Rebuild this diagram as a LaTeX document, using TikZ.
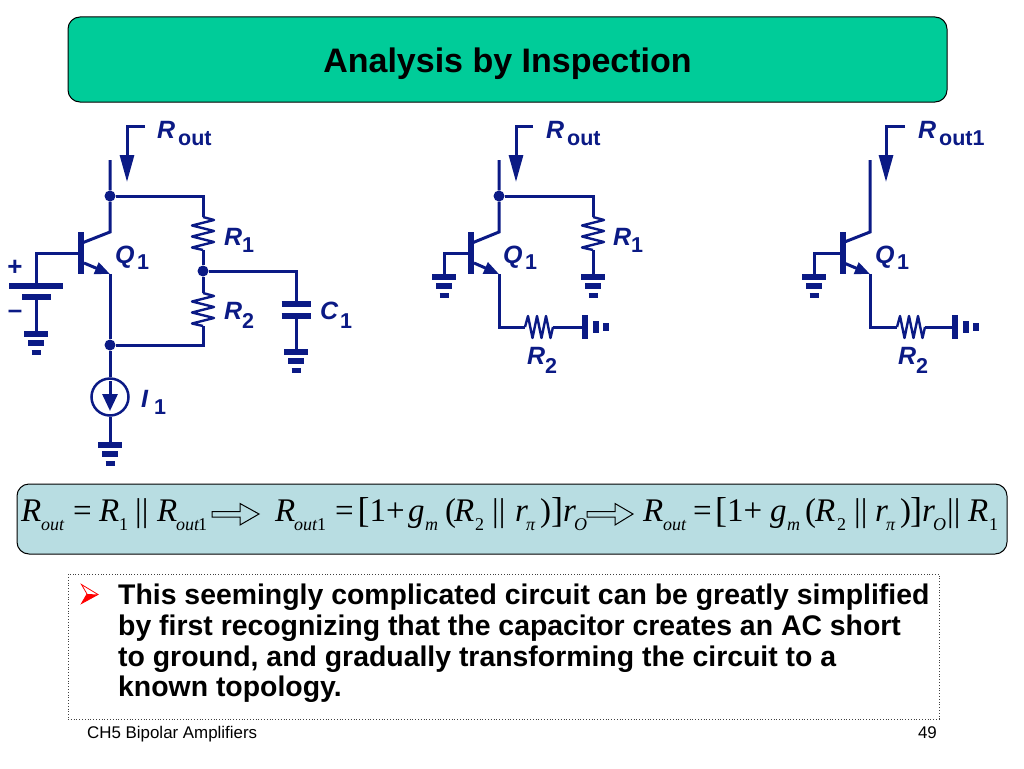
\documentclass[tikz,border=0pt]{standalone}
\usepackage{fontspec}
\usetikzlibrary{arrows.meta}
\setmainfont{Liberation Sans}
\newfontfamily\serf{Liberation Serif}
\newfontfamily\cfont{Liberation Sans Bold Italic}
\newfontfamily\cfontu{Liberation Sans Bold}
\definecolor{navy}{HTML}{0B1A85}
\definecolor{titlefill}{HTML}{00CC99}
\definecolor{eqfill}{HTML}{B8DDE2}
\tikzset{
  wire/.style={draw=navy,line width=3pt,line join=miter},
  plate/.style={draw=navy,line width=6pt},
  dotn/.style={circle,fill=navy,inner sep=0pt,minimum size=11pt},
  clab/.style={anchor=base west,inner sep=0pt,text=navy,font=\cfont\fontsize{25}{25}\selectfont},
  csub/.style={anchor=base west,inner sep=0pt,text=navy,font=\cfontu\fontsize{21.5}{21.5}\selectfont},
  eqbig/.style={anchor=base west,inner sep=0pt,font=\serf\fontsize{33}{33}\selectfont},
  eqit/.style={anchor=base west,inner sep=0pt,font=\serf\itshape\fontsize{33}{33}\selectfont},
  eqsub/.style={anchor=base west,inner sep=0pt,font=\serf\itshape\fontsize{18}{18}\selectfont},
  eqsubr/.style={anchor=base west,inner sep=0pt,font=\serf\fontsize{18}{18}\selectfont},
  eqbr/.style={anchor=base west,inner sep=0pt,font=\serf\fontsize{36}{36}\selectfont},
  bigarrow/.style={draw=black,line width=1pt,fill=eqfill},
  pics/gnd/.style={code={
    \draw[navy,line width=5.5pt] (-12,0)--(12,0);
    \draw[navy,line width=5.5pt] (-8,9)--(8,9);
    \draw[navy,line width=5.5pt] (-4.5,18.5)--(4.5,18.5);}},
  pics/gndh/.style={code={
    \draw[navy,line width=5.5pt] (0,-12)--(0,12);
    \draw[navy,line width=5.5pt] (11,-6)--(11,6);
    \draw[navy,line width=5.5pt] (21,-4)--(21,4);}},
  pics/resv/.style={code={
    \draw[wire,line width=2.4pt,line join=round] (0,0)--(11,3)--(-11,8.5)--(11,14)--(-11,19.5)--(11,25)--(-11,30.5)--(0,33);}},
  pics/resh/.style={code={
    \draw[wire,line width=2.4pt,line join=round] (0,0)--(3,-11)--(7.5,11)--(12,-11)--(16.5,11)--(21,-11)--(25.5,11)--(28,0);}},
}
\begin{document}
\begin{tikzpicture}[x=1pt,y=-1pt]
\useasboundingbox (0,0) rectangle (1024,768);
% panels
\node[draw=black,line width=1pt,fill=titlefill,rounded corners=12pt,minimum width=879pt,minimum height=85pt,inner sep=0pt] (titlebox) at (507.5,59.5) {};
\node[inner sep=0pt,font=\bfseries\fontsize{34}{34}\selectfont] (title) at (507.5,63.5) {Analysis by Inspection};
\node[draw=black,line width=1pt,fill=eqfill,rounded corners=12pt,minimum width=990pt,minimum height=70pt,inner sep=0pt] (eqbox) at (512,519) {};
\node[draw=black!75,line width=.8pt,dotted,minimum width=871pt,minimum height=145pt,inner sep=0pt] (textbox) at (503.5,646.5) {};

% ---- circuit 1
\coordinate (at) at (145,126); \coordinate (am) at (127,126); \coordinate (ae) at (127,182);
\draw[wire,-{Triangle[length=27pt,width=14pt]}] (at)--(am)--(ae);
\coordinate (ctop) at (110,160);
\node[dotn] (n1) at (110,196) {};
\node[dotn] (n2) at (203,271) {};
\node[dotn] (n3) at (110,345) {};
\coordinate (c1) at (110,232);
\coordinate (b1) at (82,243);
\coordinate (bw) at (82,253);
\coordinate (bl) at (36,253);
\coordinate (bp) at (36,286);
\coordinate (e0) at (84,263);
\coordinate (e1) at (110,274);
\draw[wire] (ctop)--(n1)--(c1)--(b1);
\draw[plate] (81,232)--(81,274);
\draw[wire] (bw)--(bl)--(bp);
\draw[wire,-{Triangle[length=15pt,width=12pt]}] (e0)--(e1);
\draw[wire] (e1)--(n3);
% R1 R2
\coordinate (r1a) at (203,217); \coordinate (r1b) at (203,250);
\coordinate (r2a) at (203,293); \coordinate (r2b) at (203,326);
\coordinate (tr) at (203,196); \coordinate (br) at (203,345);
\draw[wire] (n1)--(tr)--(r1a);
\pic at (r1a) {resv};
\draw[wire] (r1b)--(n2)--(r2a);
\pic at (r2a) {resv};
\draw[wire] (r2b)--(br)--(n3);
% C1
\coordinate (ct) at (296,271); \coordinate (cp1) at (296,304); \coordinate (cp2) at (296,316); \coordinate (cg) at (296,352);
\draw[wire] (n2)--(ct)--(cp1);
\draw[plate] (281.5,304)--(310.5,304);
\draw[plate] (281.5,316)--(310.5,316);
\draw[wire] (cp2)--(cg);
\pic at (cg) {gnd};
% battery
\draw[plate] (9,286)--(63,286);
\coordinate (bp2) at (36,297); \coordinate (bg) at (36,334);
\draw[plate] (22,297)--(51,297);
\draw[wire] (bp2)--(bg);
\pic at (bg) {gnd};
\node[inner sep=0pt,text=navy,font=\cfontu\fontsize{26}{26}\selectfont] (plus) at (15,268) {+};
\node[inner sep=0pt,text=navy,font=\cfontu\fontsize{26}{26}\selectfont] (minus) at (15,314) {–};
% current source
\node[circle,draw=navy,line width=2.5pt,minimum size=37pt,inner sep=0pt] (i1) at (110,397) {};
\coordinate (ig) at (110,445); \coordinate (ia) at (110,381); \coordinate (ib) at (110,411);
\draw[wire] (n3)--(i1);
\draw[wire,-{Triangle[length=17pt,width=15pt]}] (ia)--(ib);
\draw[wire] (i1)--(ig);
\pic at (ig) {gnd};
% labels 1
\node[clab] (la) at (157,138) {R}; \node[csub] (las) at (178,145) {out};
\node[clab] (lq) at (115,263) {Q}; \node[csub] (lqs) at (137,269) {1};
\node[clab] (lr1) at (224,245) {R}; \node[csub] (lr1s) at (242,252) {1};
\node[clab] (lr2) at (224,319) {R}; \node[csub] (lr2s) at (242,328) {2};
\node[clab] (lc1) at (320,319) {C}; \node[csub] (lc1s) at (340,328) {1};
\node[clab] (li) at (141,407) {I}; \node[csub] (lis) at (154,414) {1};

% ---- circuit 2
\coordinate (Bat) at (533,126); \coordinate (Bam) at (516,126); \coordinate (Bae) at (516,182);
\draw[wire,-{Triangle[length=27pt,width=14pt]}] (Bat)--(Bam)--(Bae);
\coordinate (Bctop) at (499,160);
\node[dotn] (Bn1) at (499,196) {};
\coordinate (Bc1) at (499,232); \coordinate (Bb1) at (472,243); \coordinate (Bbw) at (472,253);
\coordinate (Bbl) at (444,253); \coordinate (Bbg) at (444,277);
\coordinate (Be0) at (474,263); \coordinate (Be1) at (499,274);
\coordinate (Bec) at (499,327); \coordinate (Br2a) at (525,327); \coordinate (Br2b) at (553,327); \coordinate (Bg2) at (585,327);
\draw[wire] (Bctop)--(Bn1)--(Bc1)--(Bb1);
\draw[plate] (471,232)--(471,274);
\draw[wire] (Bbw)--(Bbl)--(Bbg);
\pic at (Bbg) {gnd};
\draw[wire,-{Triangle[length=15pt,width=12pt]}] (Be0)--(Be1);
\draw[wire] (Be1)--(Bec)--(Br2a);
\pic at (Br2a) {resh};
\draw[wire] (Br2b)--(Bg2);
\pic at (Bg2) {gndh};
\coordinate (Btr) at (593,196); \coordinate (Br1a) at (593,217); \coordinate (Br1b) at (593,250); \coordinate (Bg1) at (593,277);
\draw[wire] (Bn1)--(Btr)--(Br1a);
\pic at (Br1a) {resv};
\draw[wire] (Br1b)--(Bg1);
\pic at (Bg1) {gnd};
\node[clab] (Bla) at (546,138) {R}; \node[csub] (Blas) at (567,145) {out};
\node[clab] (Blq) at (503,263) {Q}; \node[csub] (Blqs) at (525,269) {1};
\node[clab] (Blr1) at (613,245) {R}; \node[csub] (Blr1s) at (631,252) {1};
\node[clab] (Blr2) at (527,364) {R}; \node[csub] (Blr2s) at (545,373) {2};

% ---- circuit 3
\coordinate (Cat) at (905,126); \coordinate (Cam) at (886,126); \coordinate (Cae) at (886,182);
\draw[wire,-{Triangle[length=27pt,width=14pt]}] (Cat)--(Cam)--(Cae);
\coordinate (Cctop) at (870,160);
\coordinate (Cc1) at (870,232); \coordinate (Cb1) at (842,243); \coordinate (Cbw) at (842,253);
\coordinate (Cbl) at (814,253); \coordinate (Cbg) at (814,277);
\coordinate (Ce0) at (844,263); \coordinate (Ce1) at (870,274);
\coordinate (Cec) at (870,327); \coordinate (Cr2a) at (897,327); \coordinate (Cr2b) at (925,327); \coordinate (Cg2) at (955,327);
\draw[wire] (Cctop)--(Cc1)--(Cb1);
\draw[plate] (842.5,232)--(842.5,274);
\draw[wire] (Cbw)--(Cbl)--(Cbg);
\pic at (Cbg) {gnd};
\draw[wire,-{Triangle[length=15pt,width=12pt]}] (Ce0)--(Ce1);
\draw[wire] (Ce1)--(Cec)--(Cr2a);
\pic at (Cr2a) {resh};
\draw[wire] (Cr2b)--(Cg2);
\pic at (Cg2) {gndh};
\node[clab] (Cla) at (918,138) {R}; \node[csub] (Clas) at (939,145) {out1};
\node[clab] (Clq) at (875,263) {Q}; \node[csub] (Clqs) at (897,269) {1};
\node[clab] (Clr2) at (898,364) {R}; \node[csub] (Clr2s) at (916,373) {2};

% ---- equation
\node[eqit] (q1) at (21,521) {R}; \node[eqsub] (q2) at (41,530) {out};
\node[eqbig] (q3) at (73,521) {=};
\node[eqit] (q4) at (99,521) {R}; \node[eqsubr] (q5) at (119,530) {1};
\node[eqbig] (q6) at (135,521) {||};
\node[eqit] (q7) at (157,521) {R}; \node[eqsub] (q8) at (176,530) {out};\node[eqsubr] (q9) at (198,530) {1};
\draw[bigarrow] (212,511.5)--(240,511.5)--(240,503.5)--(259,514)--(240,525)--(240,517)--(212,517)--cycle;
\node[eqit] (q10) at (275,521) {R}; \node[eqsub] (q11) at (294,530) {out};\node[eqsubr] (q12) at (317,530) {1};
\node[eqbig] (q13) at (335,521) {=};
\node[eqbr] (q14) at (357.5,522.5) {[};
\node[eqbig] (q15) at (369.5,521) {1};
\node[eqbig] (q16) at (386,521) {+};
\node[eqit] (q17) at (408,521) {g}; \node[eqsub] (q18) at (425,530) {m};
\node[eqbig] (q19) at (445,521) {(};
\node[eqit] (q20) at (454,521) {R}; \node[eqsubr] (q21) at (475,530) {2};
\node[eqbig] (q22) at (492,521) {||};
\node[eqit] (q23) at (515,521) {r}; \node[eqsub] (q24) at (526,530) {π};
\node[eqbig] (q25) at (540,521) {)};
\node[eqbr] (q26) at (551,522.5) {]};
\node[eqit] (q27) at (563,521) {r}; \node[eqsub] (q28) at (574,530) {O};
\draw[bigarrow] (587,511.5)--(615,511.5)--(615,503.5)--(633,514)--(615,525)--(615,517)--(587,517)--cycle;
\node[eqit] (q29) at (643,521) {R}; \node[eqsub] (q30) at (663,530) {out};
\node[eqbig] (q31) at (693,521) {=};
\node[eqbr] (q32) at (715,522.5) {[};
\node[eqbig] (q33) at (727,521) {1};
\node[eqbig] (q34) at (743.5,521) {+};
\node[eqit] (q35) at (770,521) {g}; \node[eqsub] (q36) at (787,530) {m};
\node[eqbig] (q37) at (805,521) {(};
\node[eqit] (q38) at (815,521) {R}; \node[eqsubr] (q39) at (837,530) {2};
\node[eqbig] (q40) at (854,521) {||};
\node[eqit] (q41) at (875,521) {r}; \node[eqsub] (q42) at (886,530) {π};
\node[eqbig] (q43) at (900,521) {)};
\node[eqbr] (q44) at (910,522.5) {]};
\node[eqit] (q45) at (922,521) {r}; \node[eqsub] (q46) at (933,530) {O};
\node[eqbig] (q47) at (947,521) {||};
\node[eqit] (q48) at (968,521) {R}; \node[eqsubr] (q49) at (989,530) {1};

% ---- bullet text
\fill[white,draw=red,line width=.8pt] (81.5,584.5)--(98,594.5)--(81.5,603.5)--(87,594)--cycle;
\fill[red] (98,594.5)--(81.5,603.5)--(87,594)--cycle;
\tikzset{bodyl/.style={anchor=base west,inner sep=0pt,font=\bfseries\fontsize{28.4}{28.4}\selectfont}}
\node[bodyl] (l1) at (118,604) {This seemingly complicated circuit can be greatly simplified};
\node[bodyl] (l2) at (118,635) {by first recognizing that the capacitor creates an AC short};
\node[bodyl] (l3) at (118,666) {to ground, and gradually transforming the circuit to a};
\node[bodyl] (l4) at (118,696) {known topology.};
\node[anchor=base west,inner sep=0pt,font=\fontsize{16.9}{16.9}\selectfont] (foot) at (87,738.5) {CH5 Bipolar Amplifiers};
\node[anchor=base east,inner sep=0pt,font=\fontsize{16.9}{16.9}\selectfont] (page) at (937,738.5) {49};
\end{tikzpicture}
\end{document}
